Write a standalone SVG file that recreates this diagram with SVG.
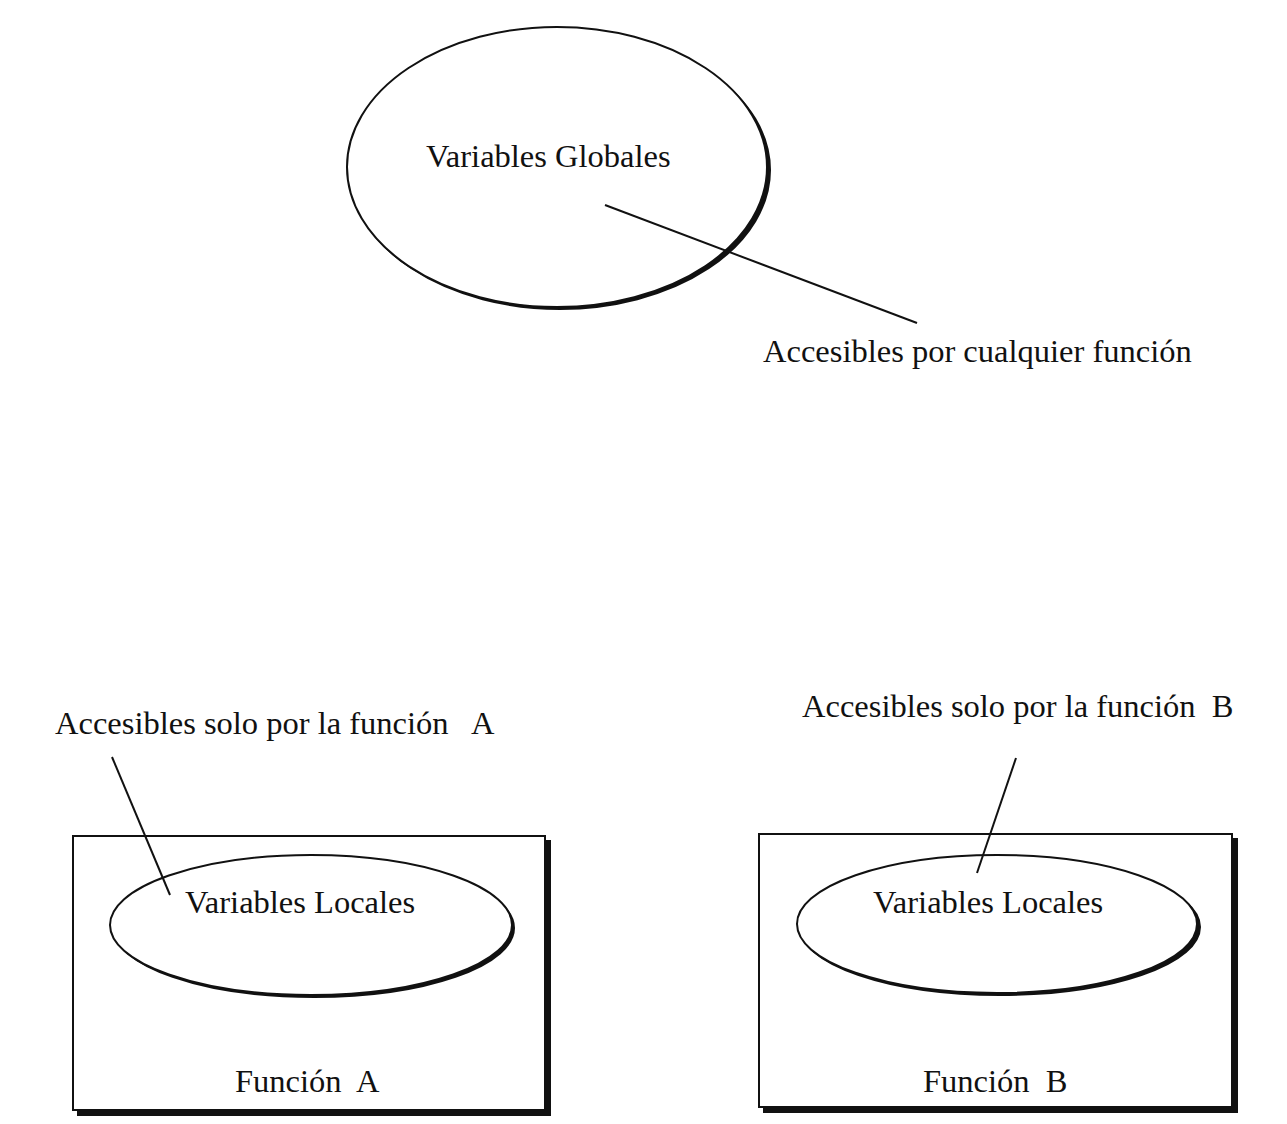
<svg xmlns="http://www.w3.org/2000/svg" width="1287" height="1124" viewBox="0 0 1287 1124">
<style>
.t{font-family:"Liberation Serif","Times New Roman",serif;font-size:32.5px;fill:#111;white-space:pre}
.o{fill:#fff;stroke:#111;stroke-width:2}
.sh{fill:#111;stroke:#111;stroke-width:2}
.c{stroke:#111;stroke-width:2;fill:none}
</style>
<rect width="1287" height="1124" fill="#fff"/>
<g id="globales">
<ellipse class="sh" cx="560" cy="170" rx="210" ry="139"/>
<ellipse class="o" cx="557" cy="167" rx="210" ry="140"/>
<text class="t" x="426" y="167">Variables Globales</text>
</g>
<g id="label-global">
<text class="t" x="763" y="362">Accesibles por cualquier función</text>
</g>
<g id="funcionA">
<rect class="sh" x="78" y="841" width="472" height="274"/>
<rect class="o" x="73" y="836" width="472" height="274"/>
<ellipse class="sh" cx="314" cy="928" rx="200" ry="69"/>
<ellipse class="o" cx="311" cy="925" rx="201" ry="70"/>
<text class="t" x="185" y="913">Variables Locales</text>
<text class="t" x="235" y="1092">Función  A</text>
</g>
<g id="funcionB">
<rect class="sh" x="764" y="839" width="473" height="273"/>
<rect class="o" x="759" y="834" width="473" height="273"/>
<ellipse class="sh" cx="1000" cy="927" rx="200" ry="68"/>
<ellipse class="o" cx="997" cy="924" rx="200" ry="69"/>
<text class="t" x="873" y="913">Variables Locales</text>
<text class="t" x="923" y="1092">Función  B</text>
</g>
<g id="label-A">
<text class="t" x="55" y="734">Accesibles solo por la función   A</text>
</g>
<g id="label-B">
<text class="t" x="802" y="717">Accesibles solo por la función  B</text>
</g>
<g id="connectors">
<line class="c" x1="605" y1="205" x2="917" y2="323"/>
<line class="c" x1="112" y1="757" x2="170" y2="895"/>
<line class="c" x1="1016" y1="758" x2="977" y2="873"/>
</g>
</svg>
